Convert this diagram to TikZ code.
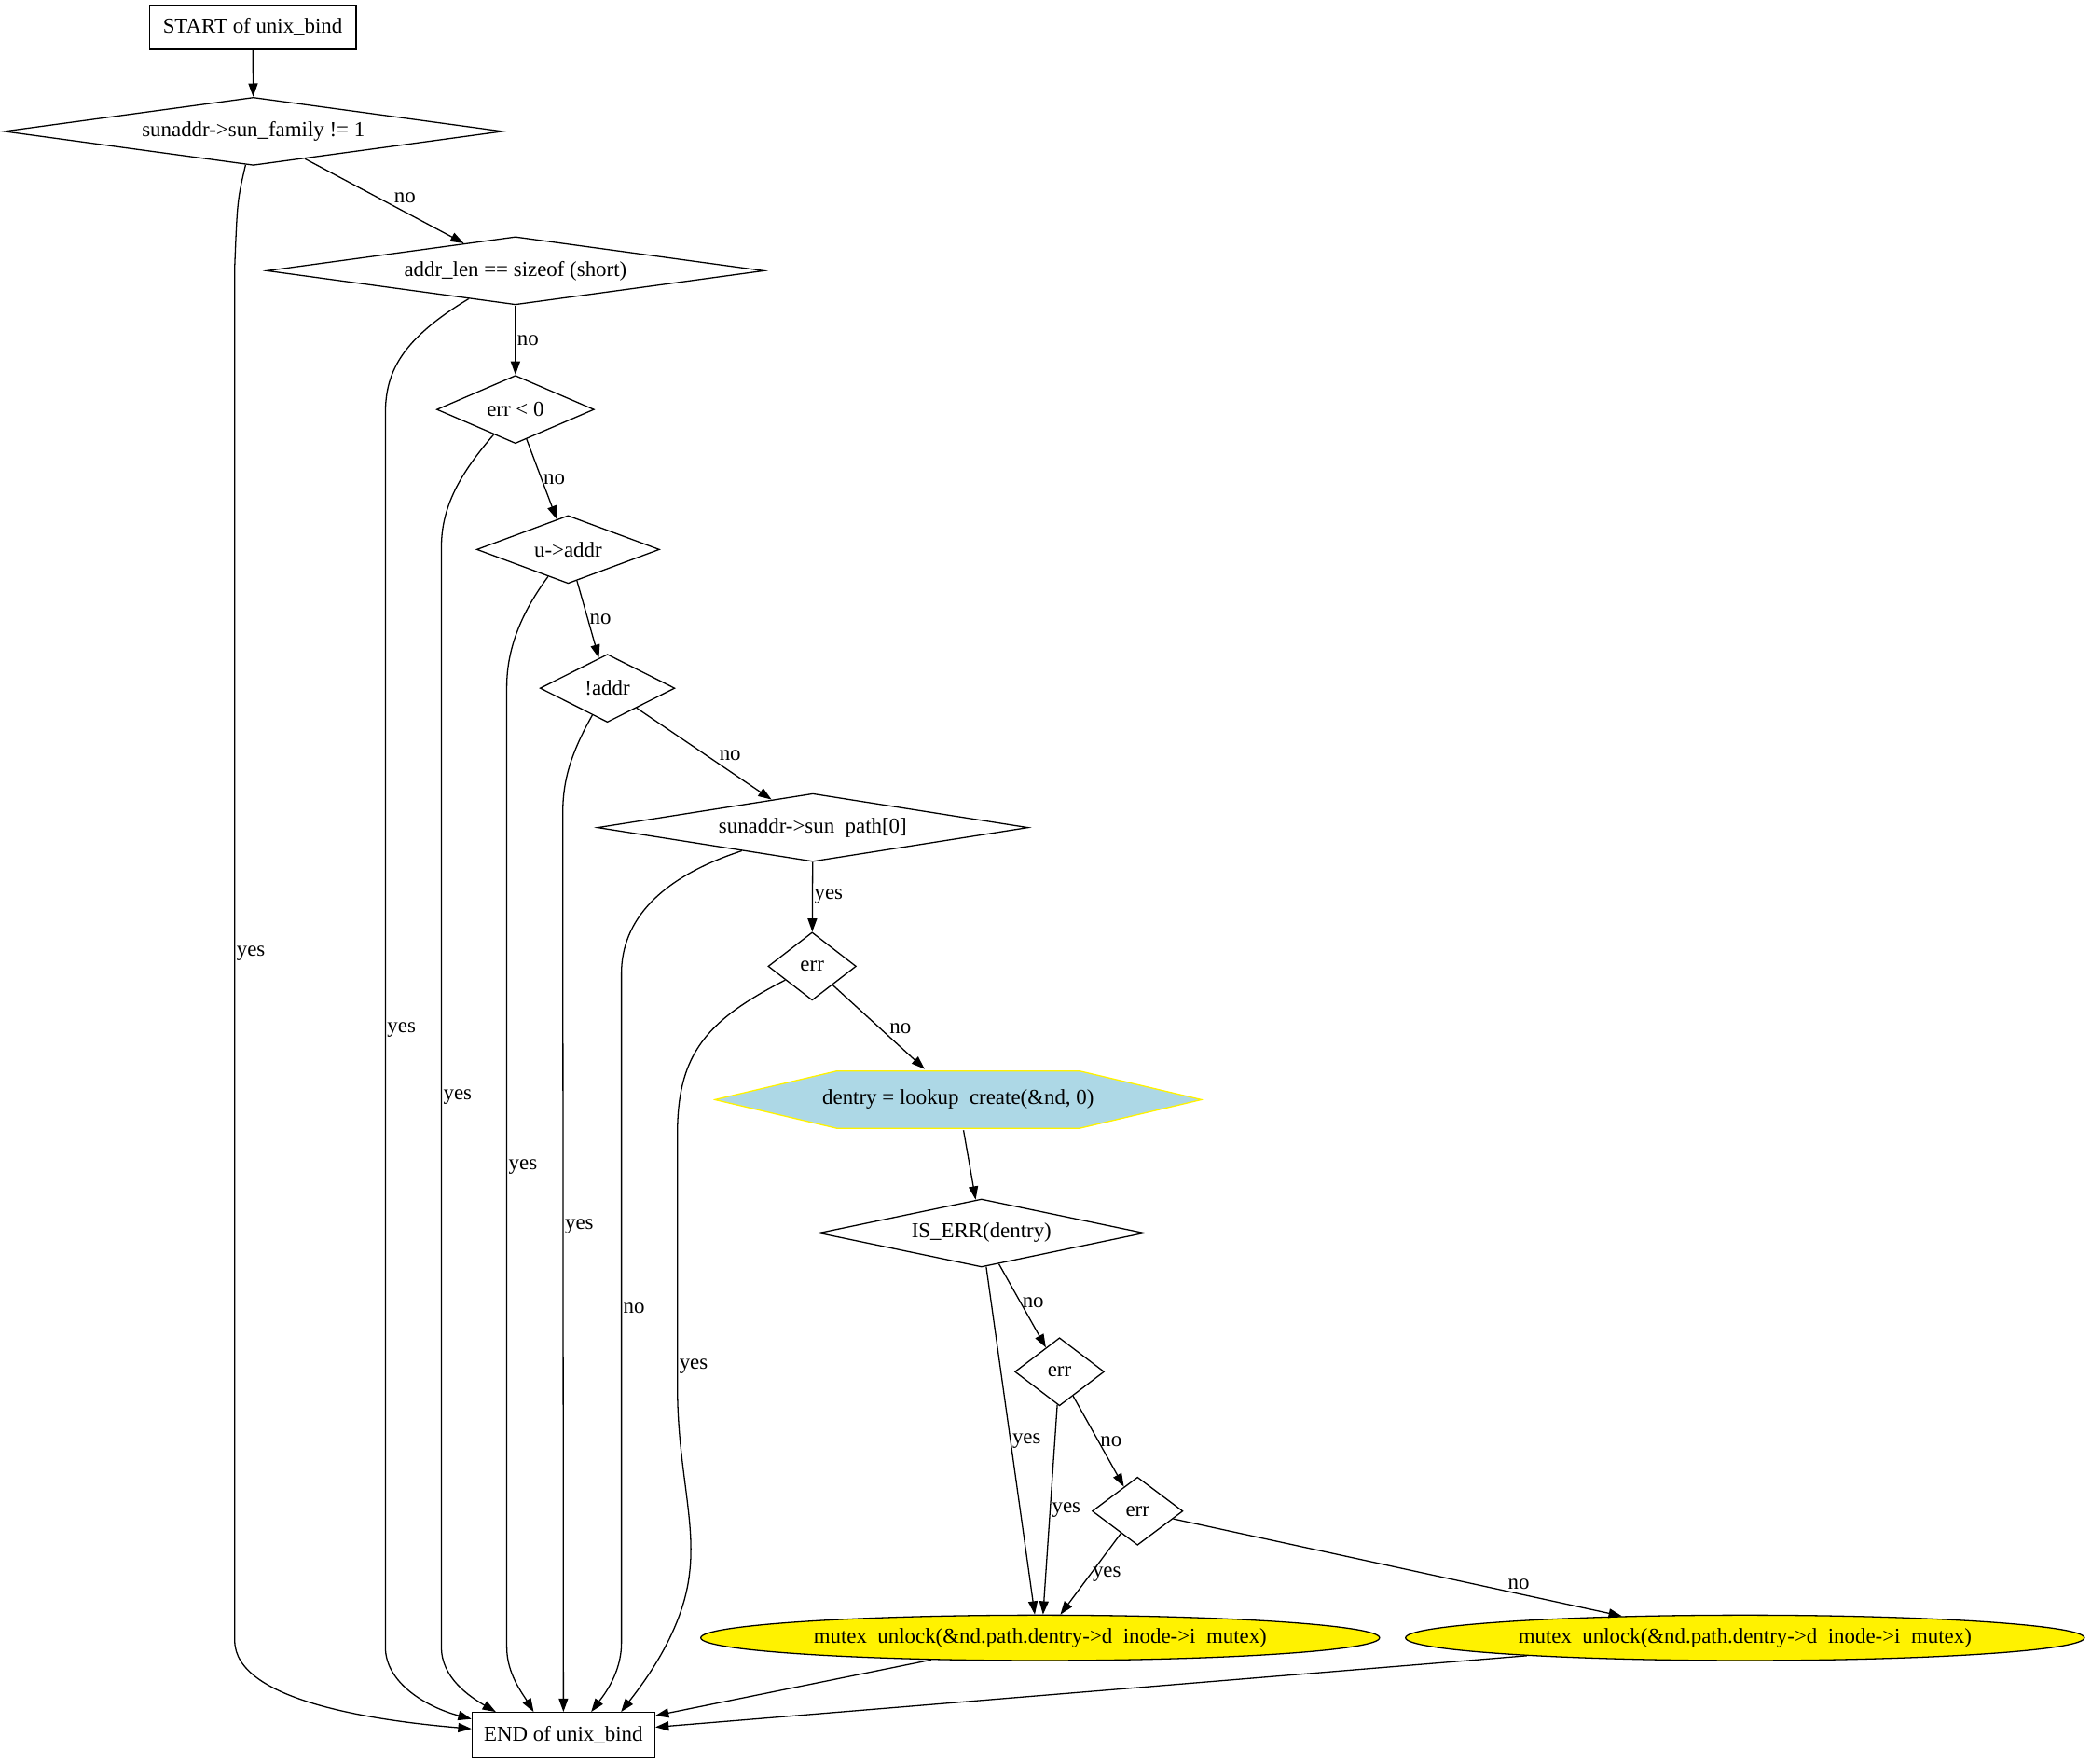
\documentclass[tikz,border=0pt]{standalone}
\usepackage{fontspec}
\setmainfont{Liberation Serif}
\usepackage{tikz}
\usetikzlibrary{shapes.geometric, arrows.meta, positioning}
\definecolor{hexblue}{RGB}{173,216,230}

\begin{document}
\begin{tikzpicture}[x=1pt, y=-1pt, line width=0.9pt,
        every node/.style={font=\fontsize{16}{19}\selectfont},
        term/.style={draw, rectangle, minimum height=33pt, inner sep=0pt},
        cond/.style 2 args={draw, diamond, minimum width=#1, minimum height=51pt, aspect=#2, inner sep=0pt},
        unlock/.style={draw, ellipse, fill=yellow, minimum width=509pt, minimum height=34pt, inner sep=0pt},
        act/.style={rectangle, minimum width=367pt, minimum height=45pt, inner sep=0pt,
            path picture={
                \filldraw[fill=hexblue, draw=yellow, line width=0.9pt]
                    ([xshift=1pt]path picture bounding box.west)
                    -- ([xshift=-91pt, yshift=-1pt]path picture bounding box.north)
                    -- ([xshift=91pt, yshift=-1pt]path picture bounding box.north)
                    -- ([xshift=-1pt]path picture bounding box.east)
                    -- ([xshift=91pt, yshift=1pt]path picture bounding box.south)
                    -- ([xshift=-91pt, yshift=1pt]path picture bounding box.south)
                    -- cycle;
            }},
        flow/.style={-{Triangle[length=10pt, width=7pt]}},
        lbl/.style={inner sep=1pt}]
    \useasboundingbox (0,0) rectangle (1568,1322);

    \node[term, minimum width=155pt] (startn) at (189.5,20.5) {START of unix\_bind};
    \node[cond={374pt}{7.3}] (d1) at (190,98.5) {sunaddr->sun\_family != 1};
    \node[cond={373pt}{7.3}] (d2) at (386.5,203) {addr\_len == sizeof (short)};
    \node[cond={118pt}{2.3}] (d3) at (386.5,307) {err < 0};
    \node[cond={137pt}{2.7}] (d4) at (426,412) {u->addr};
    \node[cond={101pt}{2.0}] (d5) at (455.5,516) {!addr};
    \node[cond={323pt}{6.3}] (d6) at (609.5,620.5) {sunaddr->sun\ \ path[0]};
    \node[cond={66pt}{1.3}] (d7) at (609,724.5) {err};
    \node[act] (hexn) at (718.5,824.5) {dentry = lookup\ \ create(\&nd, 0)};
    \node[cond={244pt}{4.8}] (d8) at (736,924.5) {IS\_ERR(dentry)};
    \node[cond={67pt}{1.3}] (d9) at (794.5,1028.5) {err};
    \node[cond={68pt}{1.3}] (d10) at (853,1133) {err};
    \node[unlock] (e1) at (780,1228) {mutex\ \ unlock(\&nd.path.dentry->d\ \ inode->i\ \ mutex)};
    \node[unlock] (e2) at (1308.5,1228) {mutex\ \ unlock(\&nd.path.dentry->d\ \ inode->i\ \ mutex)};
    \node[term, minimum width=137pt, minimum height=34pt] (endn) at (422.5,1301) {END of unix\_bind};

    \draw[flow] (startn) -- (d1);
    \draw[flow] (d1) -- node[lbl, above right, pos=0.55] {no} (d2);
    \draw[flow] (d2) -- node[lbl, right] {no} (d3);
    \draw[flow] (d3) -- node[lbl, right] {no} (d4);
    \draw[flow] (d4) -- node[lbl, right] {no} (d5);
    \draw[flow] (d5) -- node[lbl, above right, pos=0.6] {no} (d6);
    \draw[flow] (d6) -- node[lbl, right] {yes} (d7);
    \draw[flow] (d7) -- node[lbl, above right, pos=0.6] {no} (hexn);
    \draw[flow] (hexn) -- (d8);
    \draw[flow] (d8) -- node[lbl, right, pos=0.46] {no} (d9);
    \draw[flow] (d8) -- node[lbl, right] {yes} (e1.103);
    \draw[flow] (d9) -- node[lbl, right] {no} (d10);
    \draw[flow] (d9) -- node[lbl, right] {yes} (e1.83);
    \draw[flow] (d10) -- node[lbl, right] {yes} (e1.49);
    \draw[flow] (d10) -- node[lbl, above=2pt, pos=0.77] {no} (e2.170);
    \draw[flow] (e1) -- (endn.12);
    \draw[flow] (e2) -- (endn.5);

    \draw[flow] (d1) .. controls (178,150) .. (176,200)
        -- node[lbl, right] {yes} (176,1230)
        .. controls (176,1275) and (280,1290) .. (endn.176);
    \draw[flow] (d2) .. controls (300,255) and (289,280) .. (289,310)
        -- node[lbl, right] {yes} (289,1235)
        .. controls (289,1262) and (320,1280) .. (endn.170);
    \draw[flow] (d3) .. controls (345,355) and (331,380) .. (331,410)
        -- node[lbl, right] {yes} (331,1235)
        .. controls (331,1258) and (352,1272) .. (endn.161);
    \draw[flow] (d4) .. controls (392,458) and (380,485) .. (380,515)
        -- node[lbl, right] {yes} (380,1235)
        .. controls (380,1255) and (392,1270) .. (endn.142);
    \draw[flow] (d5) .. controls (428,565) and (422,585) .. (422,610)
        -- node[lbl, right, pos=0.46] {yes} (endn.north);
    \draw[flow] (d6) .. controls (495,658) and (466,690) .. (466,730)
        -- node[lbl, right] {no} (466,1232)
        .. controls (466,1255) and (452,1272) .. (endn.40);
    \draw[flow] (d7) .. controls (530,765) and (508,790) .. (508,850)
        -- node[lbl, right, pos=0.92] {yes} (508,1040)
        .. controls (508,1100) and (522,1140) .. (517,1180)
        .. controls (512,1225) and (480,1265) .. (endn.22);
\end{tikzpicture}
\end{document}
